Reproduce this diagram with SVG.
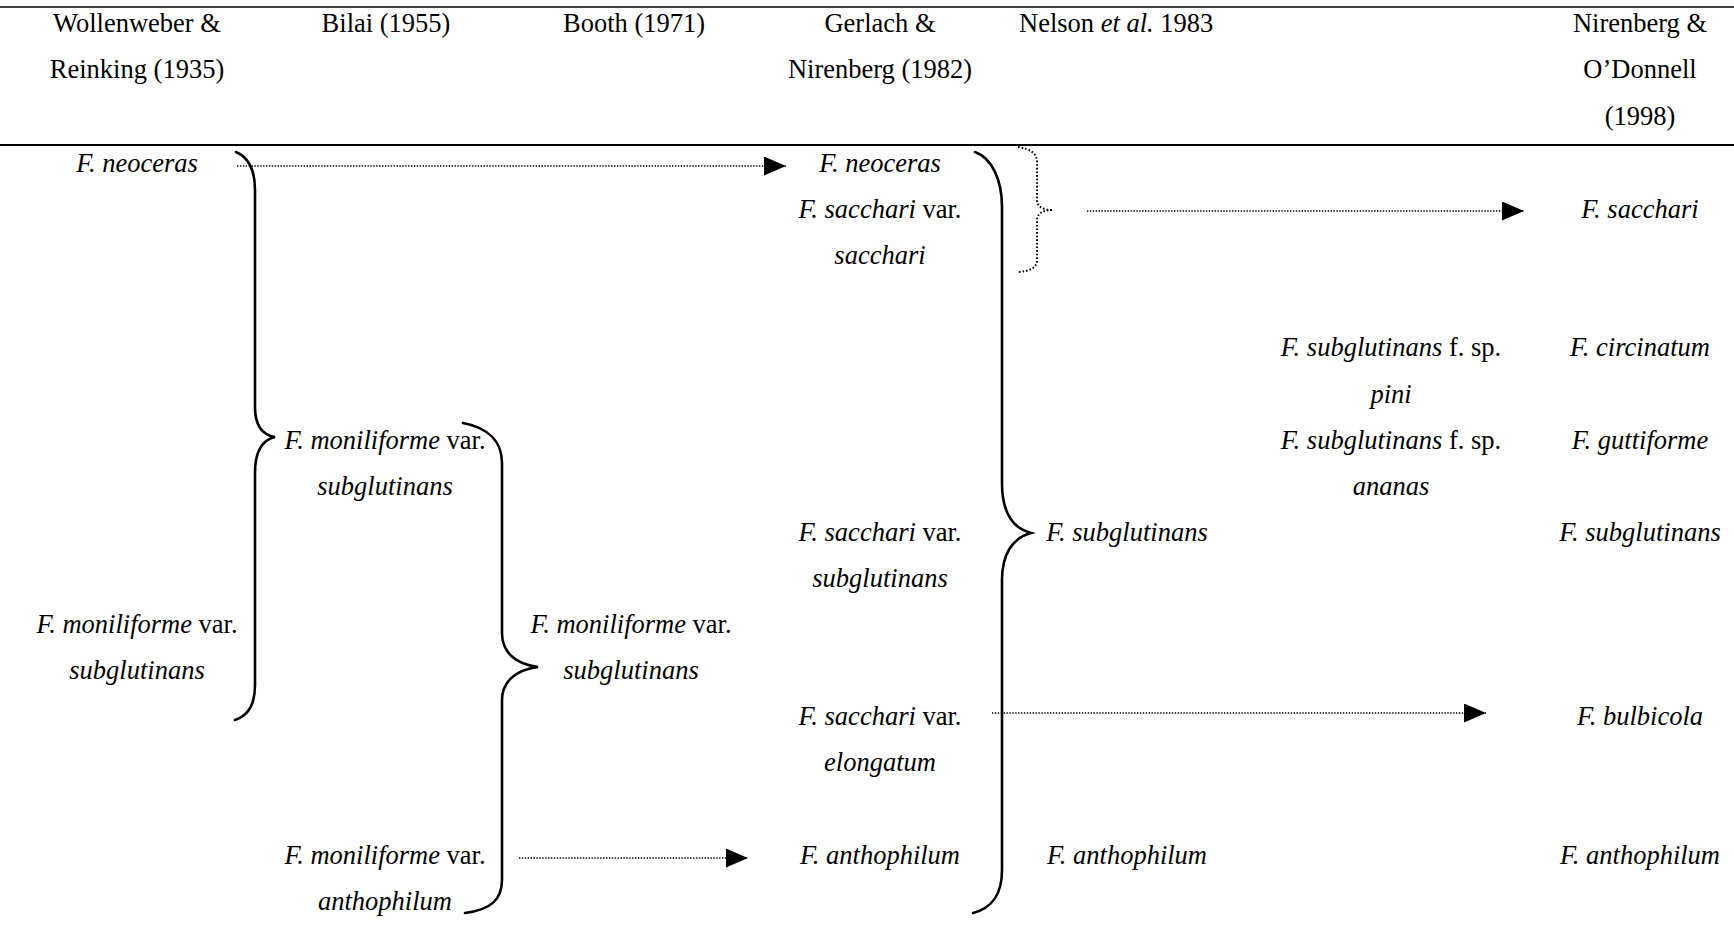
<svg xmlns="http://www.w3.org/2000/svg" width="1734" height="928" viewBox="0 0 1734 928">
<defs>
<style>
text{font-family:"Liberation Serif","Times New Roman",serif;font-size:26.5px;fill:#000;text-anchor:middle}
.i{font-style:italic}
.rule{stroke:#000;fill:none}
.brace{stroke:#000;stroke-width:2.6;fill:none;stroke-linecap:round}
.dbrace{stroke:#000;stroke-width:2;fill:none;stroke-dasharray:1.6 2}
.dot{stroke:#000;stroke-width:1.4;fill:none;stroke-dasharray:1.4 1.5;marker-end:url(#head)}
</style>
<marker id="head" markerUnits="userSpaceOnUse" markerWidth="23" markerHeight="20" refX="22" refY="9.5" orient="auto">
<path d="M0,0 L22,9.5 L0,19 Z" fill="#000"/>
</marker>
</defs>
<rect width="1734" height="928" fill="#fff"/>
<line class="rule" x1="0" y1="7" x2="1734" y2="7" stroke-width="1.5"/>
<line class="rule" x1="0" y1="145" x2="1734" y2="145" stroke-width="2"/>

<g id="headers">
<g id="h-wollenweber"><text x="137" y="31.5">Wollenweber &amp;</text><text x="137" y="78">Reinking (1935)</text></g>
<g id="h-bilai"><text x="386" y="31.5">Bilai (1955)</text></g>
<g id="h-booth"><text x="634" y="31.5">Booth (1971)</text></g>
<g id="h-gerlach"><text x="880" y="31.5">Gerlach &amp;</text><text x="880" y="78">Nirenberg (1982)</text></g>
<g id="h-nelson"><text x="1019" y="31.5" style="text-anchor:start">Nelson <tspan class="i">et al.</tspan> 1983</text></g>
<g id="h-nirenberg"><text x="1640" y="31.5">Nirenberg &amp;</text><text x="1640" y="78">O’Donnell</text><text x="1640" y="124.5">(1998)</text></g>
</g>

<g id="connectors">
<path class="brace" d="M236,152 C250,158 255,172 255,190 L255,407 C255,425 262,435 275,437 C262,440 255,452 255,473 L255,685 C255,705 248,716 235,720"/>
<path class="brace" d="M463,423 C490,428 502,443 502,463 L502,633 C502,652 515,664 538,667 C515,670 502,682 502,700 L502,880 C502,900 490,910 465,913"/>
<path class="brace" d="M975,152 C992,158 1002,180 1002,207 L1002,483 C1002,512 1012,528 1031,533 C1012,538 1002,555 1002,580 L1002,870 C1002,895 992,908 973,913"/>
<path class="dbrace" d="M1018,147 C1030,149 1037,153 1037,162 L1037,200 C1037,206 1042,210 1053,210 C1042,210 1037,214 1037,220 L1037,260 C1037,268 1030,271 1018,272"/>
<line class="dot" x1="237" y1="166" x2="786" y2="166"/>
<line class="dot" x1="1087" y1="211" x2="1524" y2="211"/>
<line class="dot" x1="992" y1="713" x2="1486" y2="713"/>
<line class="dot" x1="519" y1="858" x2="748" y2="858"/>
</g>

<g id="n-wr-neoceras"><text x="137" y="172" class="i">F. neoceras</text></g>
<g id="n-wr-subglutinans"><text x="137" y="633"><tspan class="i">F. moniliforme</tspan> var.</text><text x="137" y="679.1" class="i">subglutinans</text></g>

<g id="n-bilai-subglutinans"><text x="385" y="448.6"><tspan class="i">F. moniliforme</tspan> var.</text><text x="385" y="494.7" class="i">subglutinans</text></g>
<g id="n-bilai-anthophilum"><text x="385" y="863.5"><tspan class="i">F. moniliforme</tspan> var.</text><text x="385" y="909.6" class="i">anthophilum</text></g>

<g id="n-booth-subglutinans"><text x="631" y="633"><tspan class="i">F. moniliforme</tspan> var.</text><text x="631" y="679.1" class="i">subglutinans</text></g>

<g id="n-gn-neoceras"><text x="880" y="172" class="i">F. neoceras</text></g>
<g id="n-gn-sacchari"><text x="880" y="218.1"><tspan class="i">F. sacchari</tspan> var.</text><text x="880" y="264.2" class="i">sacchari</text></g>
<g id="n-gn-subglutinans"><text x="880" y="540.8"><tspan class="i">F. sacchari</tspan> var.</text><text x="880" y="586.9" class="i">subglutinans</text></g>
<g id="n-gn-elongatum"><text x="880" y="725.2"><tspan class="i">F. sacchari</tspan> var.</text><text x="880" y="771.3" class="i">elongatum</text></g>
<g id="n-gn-anthophilum"><text x="880" y="863.5" class="i">F. anthophilum</text></g>

<g id="n-nelson-subglutinans"><text x="1127" y="540.8" class="i">F. subglutinans</text></g>
<g id="n-nelson-anthophilum"><text x="1127" y="863.5" class="i">F. anthophilum</text></g>

<g id="n-fsp-pini"><text x="1391" y="356.4"><tspan class="i">F. subglutinans</tspan> f. sp.</text><text x="1391" y="402.5" class="i">pini</text></g>
<g id="n-fsp-ananas"><text x="1391" y="448.6"><tspan class="i">F. subglutinans</tspan> f. sp.</text><text x="1391" y="494.7" class="i">ananas</text></g>

<g id="n-no-sacchari"><text x="1640" y="218.1" class="i">F. sacchari</text></g>
<g id="n-no-circinatum"><text x="1640" y="356.4" class="i">F. circinatum</text></g>
<g id="n-no-guttiforme"><text x="1640" y="448.6" class="i">F. guttiforme</text></g>
<g id="n-no-subglutinans"><text x="1640" y="540.8" class="i">F. subglutinans</text></g>
<g id="n-no-bulbicola"><text x="1640" y="725.2" class="i">F. bulbicola</text></g>
<g id="n-no-anthophilum"><text x="1640" y="863.5" class="i">F. anthophilum</text></g>
</svg>
